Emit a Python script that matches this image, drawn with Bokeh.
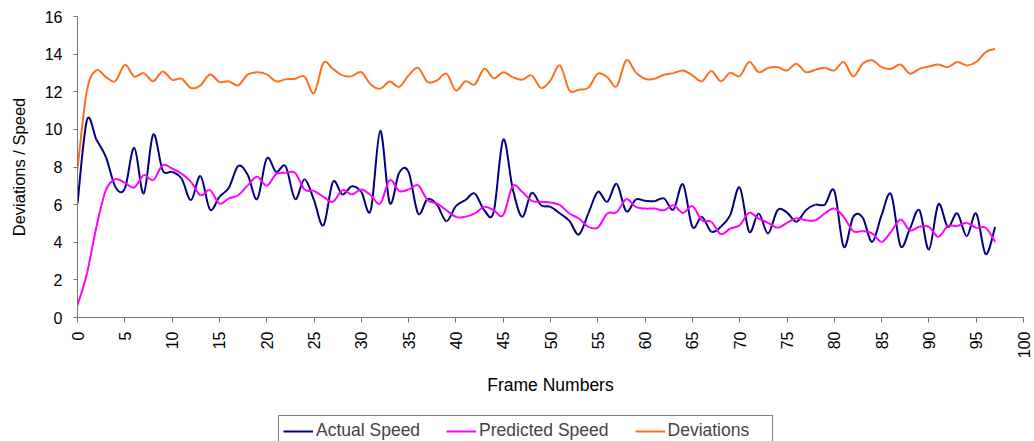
import math
import numpy as np
from bokeh.plotting import figure
from bokeh.models import Legend, LegendItem, Range1d, FixedTicker, Column
from bokeh.embed import file_html
from bokeh.resources import INLINE

frames = list(range(98))

actual_speed = [
    6.06, 10.49, 9.46, 8.54, 6.95, 6.85, 9.02, 6.6, 9.73, 7.83,
    7.74, 7.39, 6.24, 7.52, 5.74, 6.41, 6.9, 8.06, 7.57, 6.3,
    8.45, 7.74, 8.04, 6.3, 7.35, 6.24, 4.9, 7.2, 6.54, 6.98,
    6.68, 5.7, 9.92, 6.1, 7.69, 7.74, 5.53, 6.3, 6.0, 5.12,
    5.92, 6.24, 6.59, 5.7, 5.62, 9.46, 6.86, 5.35, 6.62, 5.97,
    5.88, 5.53, 5.14, 4.41, 5.53, 6.68, 6.15, 7.1, 5.65, 6.27,
    6.2, 6.18, 6.33, 5.74, 7.08, 4.82, 5.35, 4.56, 4.82, 5.44,
    6.91, 4.56, 5.53, 4.47, 5.7, 5.58, 5.09, 5.7, 6.0, 6.0,
    6.73, 3.76, 5.35, 5.31, 4.02, 5.44, 6.55, 3.8, 4.73, 5.7,
    3.61, 6.02, 4.82, 5.53, 4.32, 5.53, 3.37, 4.82,
]

predicted_speed = [
    0.65, 2.34, 4.82, 6.77, 7.35, 7.16, 6.91, 7.57, 7.3, 8.1,
    7.92, 7.65, 7.21, 6.5, 6.77, 6.06, 6.33, 6.5, 7.03, 7.48,
    7.0, 7.62, 7.69, 7.69, 6.8, 6.73, 6.41, 6.15, 6.77, 6.54,
    6.8, 6.5, 6.06, 7.3, 6.73, 6.8, 7.03, 6.24, 6.06, 5.7,
    5.35, 5.35, 5.53, 5.88, 5.7, 5.44, 6.98, 6.68, 6.2, 6.15,
    6.11, 5.97, 5.53, 5.26, 4.82, 4.78, 5.53, 5.6, 6.29, 5.88,
    5.79, 5.79, 5.7, 5.97, 5.56, 5.92, 5.17, 5.09, 4.43, 4.73,
    4.91, 5.56, 5.26, 5.03, 4.77, 5.03, 5.28, 5.17, 5.17, 5.53,
    5.79, 5.35, 4.59, 4.59, 4.47, 4.02, 4.56, 5.21, 4.64, 4.82,
    4.82, 4.29, 4.86, 4.86, 5.03, 4.77, 4.77, 4.02,
]

deviations = [
    7.9, 12.07, 13.14, 12.78, 12.56, 13.43, 12.81, 12.99, 12.56, 13.08,
    12.64, 12.69, 12.2, 12.34, 12.92, 12.52, 12.55, 12.34, 12.92, 13.03,
    12.92, 12.55, 12.66, 12.69, 12.81, 11.93, 13.53, 13.22, 12.87, 12.83,
    13.04, 12.39, 12.16, 12.55, 12.25, 12.87, 13.27, 12.52, 12.6, 12.96,
    12.07, 12.56, 12.39, 13.22, 12.72, 13.04, 12.78, 12.64, 12.87, 12.2,
    12.6, 13.4, 12.07, 12.11, 12.21, 12.96, 12.78, 12.29, 13.67, 13.04,
    12.69, 12.69, 12.9, 12.99, 13.13, 12.87, 12.56, 13.1, 12.56, 13.01,
    12.83, 13.58, 13.04, 13.27, 13.31, 13.13, 13.49, 13.04, 13.17, 13.27,
    13.13, 13.58, 12.81, 13.49, 13.67, 13.31, 13.22, 13.45, 12.96, 13.22,
    13.34, 13.45, 13.31, 13.58, 13.4, 13.58, 14.11, 14.28,
]

series_names = ["Actual Speed", "Predicted Speed", "Deviations"]
series_colors = ["#000080", "#FF00FF", "#FF6E1A"]
series_values = [actual_speed, predicted_speed, deviations]
x_ticks = list(range(0, 101, 5))
y_ticks = list(range(0, 17, 2))

FONT = "Liberation Sans"
BORDER_L, BORDER_R = 77, 11


def smooth_segments(xs, ys):
    """Cubic Bezier segments (Catmull-Rom style smoothing through every point)."""
    x = np.asarray(xs, float)
    y = np.asarray(ys, float)
    n = len(x)
    xp = np.concatenate([[x[0]], x, [x[-1]]])
    yp = np.concatenate([[y[0]], y, [y[-1]]])
    x0, y0 = x[:-1], y[:-1]
    x1, y1 = x[1:], y[1:]
    cx0 = x0 + (xp[2:n + 1] - xp[0:n - 1]) / 6.0
    cy0 = y0 + (yp[2:n + 1] - yp[0:n - 1]) / 6.0
    cx1 = x1 - (xp[3:n + 2] - xp[1:n]) / 6.0
    cy1 = y1 - (yp[3:n + 2] - yp[1:n]) / 6.0
    return dict(x0=x0, y0=y0, x1=x1, y1=y1, cx0=cx0, cy0=cy0, cx1=cx1, cy1=cy1)


# ---- main chart ----
p = figure(
    width=1034, height=412,
    output_backend="svg", toolbar_location=None,
    x_range=Range1d(0, 100), y_range=Range1d(0, 16),
    min_border_left=BORDER_L, min_border_right=BORDER_R,
    min_border_top=16, min_border_bottom=95,
)
p.outline_line_color = None
p.xgrid.visible = False
p.ygrid.visible = False
p.background_fill_color = "white"
p.border_fill_color = "white"

for color, vals in zip(series_colors, series_values):
    seg = smooth_segments(frames, vals)
    p.bezier(line_color=color, line_width=2, **seg)

axis_color = "#767676"
for ax in (p.xaxis[0], p.yaxis[0]):
    ax.axis_line_color = axis_color
    ax.major_tick_line_color = axis_color
    ax.minor_tick_line_color = None
    ax.major_tick_in = 0
    ax.major_label_text_font = FONT
    ax.major_label_text_font_size = "16px"
    ax.major_label_text_color = "black"
    ax.axis_label_text_font = FONT
    ax.axis_label_text_font_style = "normal"
    ax.axis_label_text_color = "black"

p.xaxis.ticker = FixedTicker(ticks=x_ticks)
p.xaxis.major_tick_out = 5
p.xaxis.major_label_standoff = 9
p.xaxis.major_label_orientation = math.pi / 2
p.xaxis.axis_label = "Frame Numbers"
p.xaxis.axis_label_standoff = 14
p.xaxis.axis_label_text_font_size = "17.5px"

p.yaxis.ticker = FixedTicker(ticks=y_ticks)
p.yaxis.major_tick_out = 4
p.yaxis.major_label_standoff = 11
p.yaxis.axis_label = "Deviations / Speed"
p.yaxis.axis_label_standoff = 14
p.yaxis.axis_label_text_font_size = "16.5px"

# ---- legend strip under the chart (key samples only; single points draw no line) ----
lg = figure(
    width=1034, height=29,
    output_backend="svg", toolbar_location=None,
    x_range=Range1d(0, 100), y_range=Range1d(-100, -99),
    min_border_left=BORDER_L, min_border_right=BORDER_R,
    min_border_top=0, min_border_bottom=0,
)
lg.axis.visible = False
lg.xgrid.visible = False
lg.ygrid.visible = False
lg.outline_line_color = None
lg.background_fill_color = "white"
lg.border_fill_color = "white"

items = []
for name, color, vals in zip(series_names, series_colors, series_values):
    r = lg.line(x=frames[:1], y=vals[:1], line_color=color, line_width=2)
    items.append(LegendItem(label=name, renderers=[r]))

legend = Legend(
    items=items, orientation="horizontal", location=(278 - BORDER_L, -5),
    label_text_font=FONT, label_text_font_size="17.5px",
    glyph_width=30, glyph_height=20, label_standoff=3, spacing=26,
    label_width=100, padding=4, margin=0,
    border_line_color="#000000", border_line_width=1,
    background_fill_color="white", background_fill_alpha=1.0,
)
lg.add_layout(legend, "center")

layout = Column(children=[p, lg], spacing=0)
open("out.html", "w").write(file_html(layout, INLINE))
